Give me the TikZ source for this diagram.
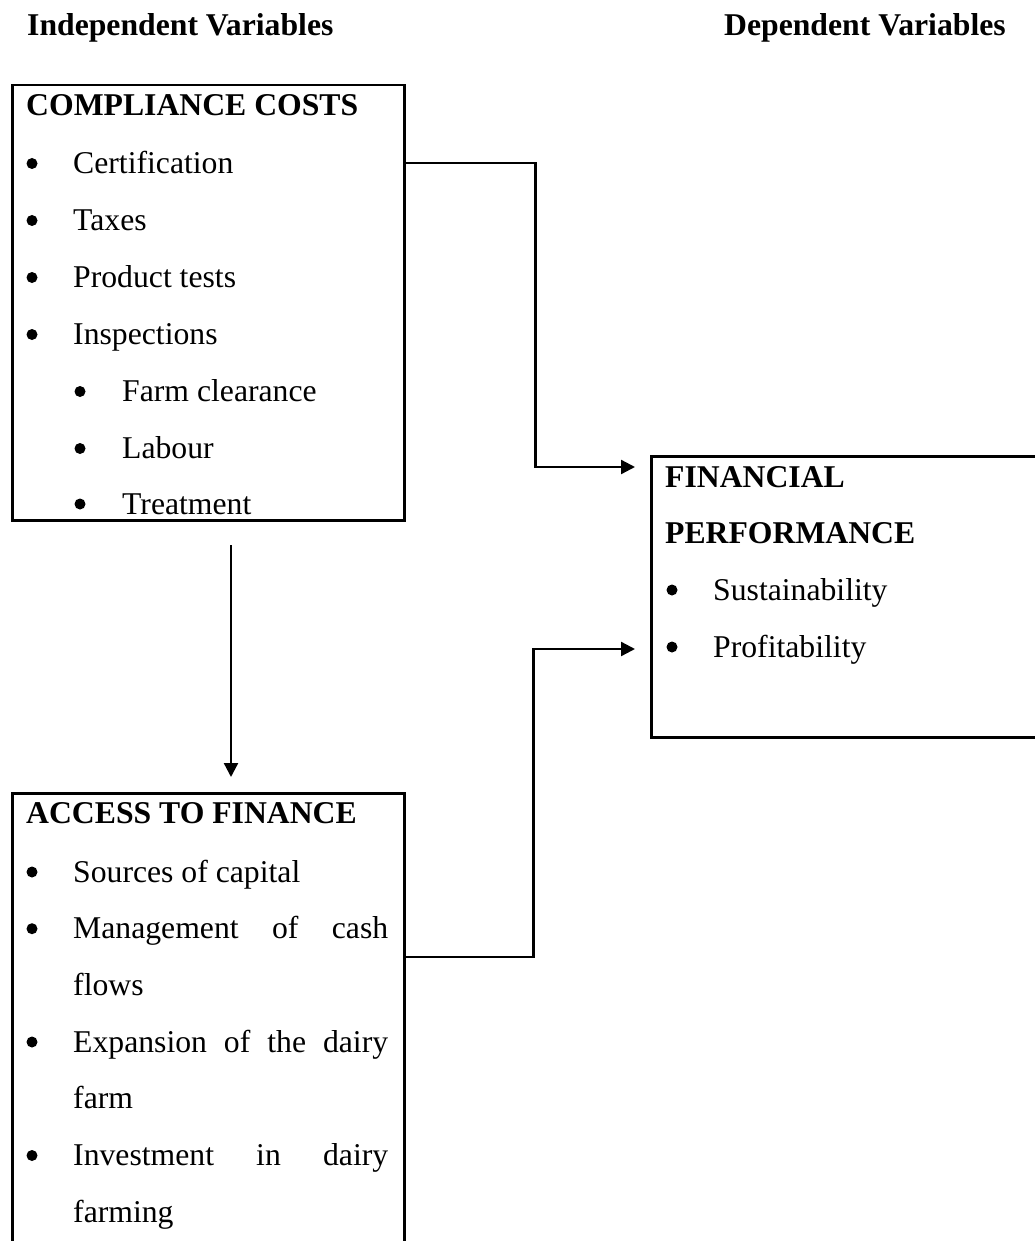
\documentclass[tikz,border=0pt]{standalone}
\usepackage{fontspec}
\setmainfont{Liberation Serif}
\usetikzlibrary{arrows.meta}
\tikzset{
  txt/.style={anchor=base west, inner sep=0pt, font=\fontsize{31.7}{38}\selectfont},
  hd/.style={txt, font=\fontsize{31.7}{38}\selectfont\bfseries},
  box/.style={draw, line width=2.5pt, rectangle, anchor=north west, inner sep=0pt},
  arr/.style={line width=2.3pt, -{Triangle[length=14pt,width=14pt]}},
}
\newcommand{\bul}[2]{\fill (#1,#2-10) circle (5.5pt);}
\begin{document}
\begin{tikzpicture}[x=1pt,y=-1pt]
\useasboundingbox (0,0) rectangle (1035,1241);
\clip (0,0) rectangle (1035,1241);
% headings
\node[hd] (hi) at (27,36) {Independent Variables};
\node[hd] (hdv) at (724,36) {Dependent Variables};
% boxes
\node[box, minimum width=392pt, minimum height=435pt] (cc) at (11,84) {};
\node[box, minimum width=500pt, minimum height=281pt] (fp) at (650,455) {};
\node[box, minimum width=392pt, minimum height=520pt] (af) at (11,792) {};
% compliance costs
\node[hd] (cct) at (26,116) {COMPLIANCE COSTS};
\bul{32}{173.5}\node[txt] (c1) at (73,173.5) {Certification};
\bul{32}{230.5}\node[txt] (c2) at (73,230.5) {Taxes};
\bul{32}{287.5}\node[txt] (c3) at (73,287.5) {Product tests};
\bul{32}{344.5}\node[txt] (c4) at (73,344.5) {Inspections};
\bul{80}{401.5}\node[txt] (c5) at (122,401.5) {Farm clearance};
\bul{80}{458.5}\node[txt] (c6) at (122,458.5) {Labour};
\bul{80}{514}\node[txt] (c7) at (122,514) {Treatment};
% financial performance
\node[hd] (fpt1) at (665,487) {FINANCIAL};
\node[hd] (fpt2) at (665,543) {PERFORMANCE};
\bul{672}{600}\node[txt] (f1) at (713,600) {Sustainability};
\bul{672}{657}\node[txt] (f2) at (713,657) {Profitability};
% access to finance
\node[hd] (aft) at (26,823) {ACCESS TO FINANCE};
\bul{32}{882}\node[txt] (a1) at (73,882) {Sources of capital};
\bul{32}{938.7}\node[txt] (a2) at (73,938.7) {\makebox[315pt][s]{Management of cash}};
\node[txt] (a2b) at (73,995.4) {flows};
\bul{32}{1052}\node[txt] (a3) at (73,1052) {\makebox[315pt][s]{Expansion of the dairy}};
\node[txt] (a3b) at (73,1108.8) {farm};
\bul{32}{1165.5}\node[txt] (a4) at (73,1165.5) {\makebox[315pt][s]{Investment in dairy}};
\node[txt] (a4b) at (73,1222.2) {farming};
% connectors
\draw[arr, shorten >=15pt] ([yshift=-79pt]cc.north east) -- ++(130,0) |- ([yshift=-12pt]fp.north west);
\draw[arr, shorten >=15pt] ([yshift=-165pt]af.north east) -- ++(128,0) |- ([yshift=-194pt]fp.north west);
\coordinate (vs) at (231,545);
\draw[arr, shorten >=15pt] (vs) -- (vs |- af.north);
\end{tikzpicture}
\end{document}
